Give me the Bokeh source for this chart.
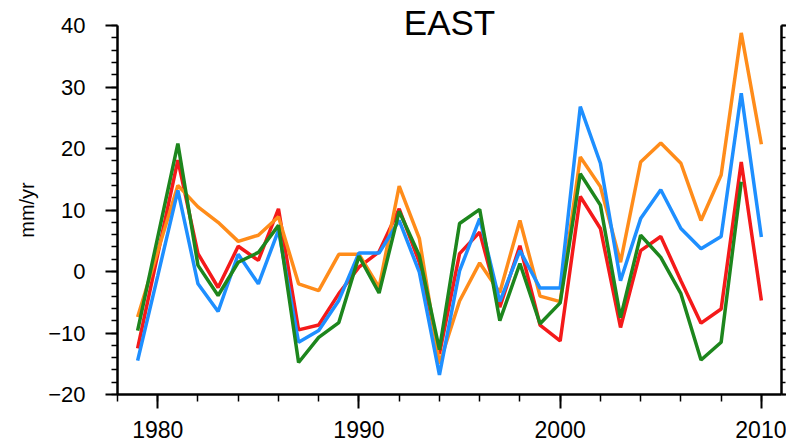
from bokeh.plotting import figure
from bokeh.models import FixedTicker, LinearAxis, Range1d, CustomJSTickFormatter
from bokeh.embed import file_html
from bokeh.resources import INLINE

years = list(range(1979, 2011))

red = [-12.5, 2.8, 18.1, 2.9, -2.6, 4.1, 1.8, 10.2, -9.5, -8.7, -3.6, 0.7, 3.2, 10.2, 1.5, -13.4,
       2.9, 6.4, -5.8, 4.2, -8.7, -11.3, 12.2, 7.0, -9.1, 3.4, 5.7, -1.5, -8.4, -6.1, 17.8, -4.7]
orange = [-7.4, 3.3, 14.0, 10.5, 8.0, 4.9, 5.9, 8.9, -2.0, -3.1, 2.8, 2.8, -2.6, 13.9, 5.4, -15.0,
          -4.8, 1.4, -3.4, 8.3, -4.0, -4.9, 18.6, 13.8, 1.5, 17.8, 20.9, 17.6, 8.3, 15.7, 38.8, 20.7]
blue = [-14.5, -0.7, 13.2, -2.0, -6.5, 2.8, -2.0, 6.7, -11.5, -9.6, -4.7, 3.0, 3.0, 8.3, -0.1, -16.8,
        0.1, 8.6, -4.9, 3.4, -2.7, -2.7, 26.8, 17.6, -1.5, 8.6, 13.3, 7.0, 3.7, 5.7, 29.0, 5.6]
green = [-9.6, 5.6, 20.8, 1.0, -3.9, 1.5, 3.1, 7.5, -14.8, -10.7, -8.3, 2.5, -3.5, 9.8, 2.6, -12.7,
         7.8, 10.1, -8.0, 1.3, -8.5, -5.1, 15.9, 10.8, -7.5, 5.9, 2.3, -3.6, -14.4, -11.5, 14.6]

x_major = [1980, 1990, 2000, 2010]
y_major = [-20, -10, 0, 10, 20, 30, 40]
title_text = "EAST"
y_label = "mm/yr"

FONT = "Liberation Sans"

p = figure(width=786, height=447, output_backend="svg", toolbar_location=None,
           x_range=Range1d(1978, 2011), y_range=Range1d(-20, 40),
           min_border_left=117, min_border_right=0, min_border_top=25, min_border_bottom=53)
p.outline_line_color = None
p.xgrid.visible = False
p.ygrid.visible = False
p.background_fill_color = "white"
p.border_fill_color = "white"

p.title.text = title_text
p.title.align = "center"
p.title.text_font = FONT
p.title.text_font_size = "35px"
p.title.text_font_style = "normal"
p.title.text_color = "black"
p.title.standoff = -33
p.title.offset = -2

xt = FixedTicker(ticks=x_major, minor_ticks=list(range(1978, 2012, 2)))
yt = FixedTicker(ticks=y_major, minor_ticks=list(range(-20, 41, 2)))

xa = p.xaxis[0]
xa.ticker = xt
xa.axis_line_width = 2.5
xa.major_tick_line_width = 2
xa.minor_tick_line_width = 1.5
xa.major_tick_out = 14
xa.major_tick_in = 0
xa.minor_tick_out = 7
xa.minor_tick_in = 0
xa.major_label_text_font = FONT
xa.major_label_text_font_size = "23px"
xa.major_label_text_color = "black"
xa.major_label_standoff = 12

ya = p.yaxis[0]
ya.ticker = yt
ya.axis_line_width = 2.5
ya.major_tick_line_width = 2
ya.minor_tick_line_width = 1.5
ya.major_tick_out = 12
ya.major_tick_in = 0
ya.minor_tick_out = 6
ya.minor_tick_in = 0
ya.major_label_text_font = FONT
ya.major_label_text_font_size = "22px"
ya.major_label_text_color = "black"
ya.major_label_standoff = 20
ya.axis_label = y_label
ya.axis_label_text_font = FONT
ya.axis_label_text_font_size = "20px"
ya.axis_label_text_color = "black"
ya.axis_label_text_font_style = "normal"
ya.axis_label_standoff = 7

ra = LinearAxis(ticker=yt, formatter=CustomJSTickFormatter(code="return ''"))
ra.axis_line_width = 2.5
ra.major_tick_line_width = 2
ra.minor_tick_line_width = 1.5
ra.major_tick_out = 5
ra.major_tick_in = 0
ra.minor_tick_out = 4
ra.minor_tick_in = 0
ra.major_label_standoff = 0
p.add_layout(ra, "right")

lw = 3.5
p.line(years, red, line_color="#F41A1A", line_width=lw)
p.line(years, orange, line_color="#FF8C1A", line_width=lw)
p.line(years, blue, line_color="#1E8FFF", line_width=lw)
p.line(years[:len(green)], green, line_color="#1D861D", line_width=lw)

open("out.html", "w").write(file_html(p, INLINE))
